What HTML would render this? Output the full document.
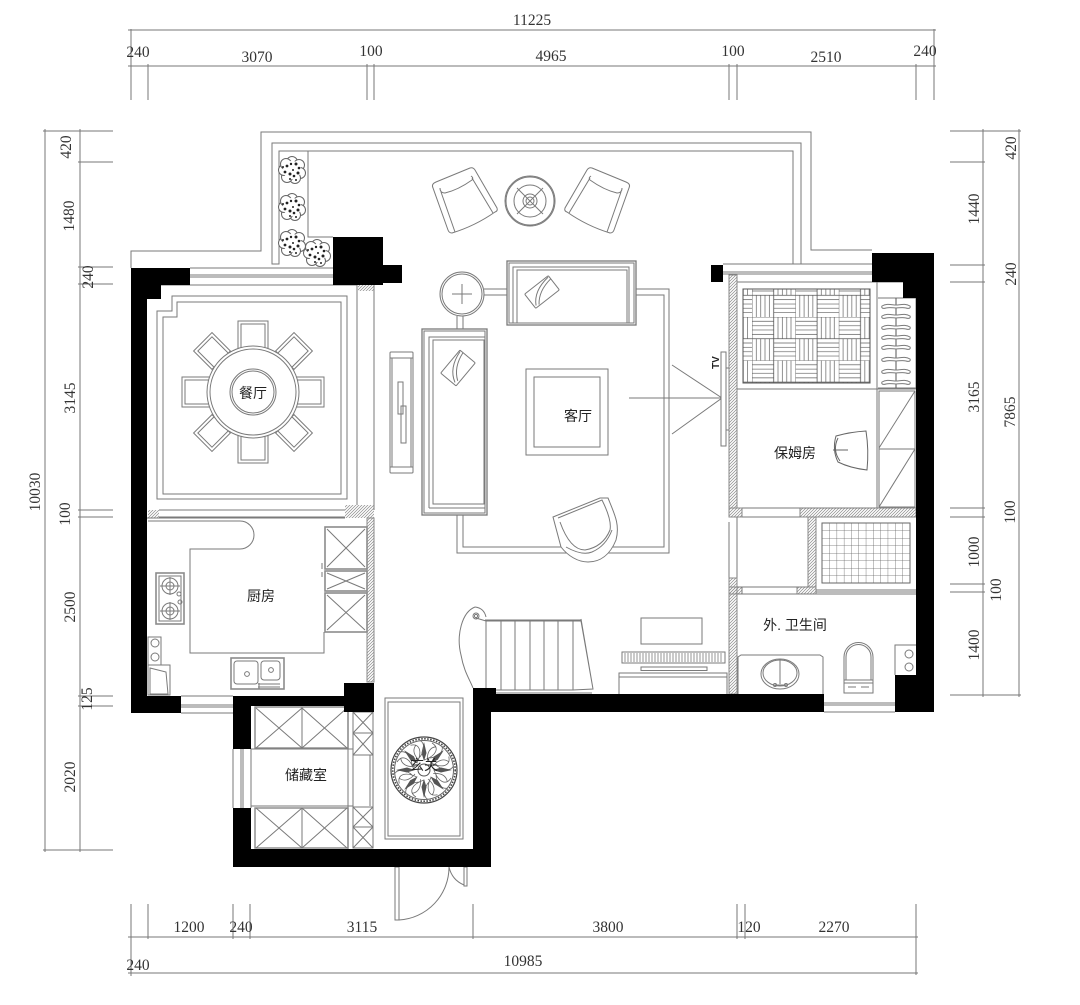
<!DOCTYPE html>
<html><head><meta charset="utf-8"><title>Floor plan</title>
<style>
html,body{margin:0;padding:0;background:#fff}
svg{display:block;filter:blur(.3px)}
.d{font-family:"Liberation Serif",serif;font-size:15.5px;fill:#333;text-anchor:middle}
.r{font-family:"Liberation Sans","Noto Sans CJK SC",sans-serif;font-size:14px;fill:#222;text-anchor:middle}
</style></head><body>
<svg xmlns="http://www.w3.org/2000/svg" width="1080" height="1005" viewBox="0 0 1080 1005">
<defs>
<pattern id="h" width="3" height="3" patternUnits="userSpaceOnUse"><path d="M-1,1 L1,-1 M0,3 L3,0 M2,4 L4,2" stroke="#8a8a8a" stroke-width=".7" fill="none"/></pattern>
<pattern id="pq" x="752" y="317" width="43.4" height="43.4" patternUnits="userSpaceOnUse">
<rect width="43.4" height="43.4" fill="#fff"/>
<path d="M0,4.3H21.7M0,8.7H21.7M0,13H21.7M0,17.4H21.7M21.7,26H43.4M21.7,30.4H43.4M21.7,34.7H43.4M21.7,39H43.4M26,0V21.7M30.4,0V21.7M34.7,0V21.7M39,0V21.7M4.3,21.7V43.4M8.7,21.7V43.4M13,21.7V43.4M17.4,21.7V43.4" stroke="#777" stroke-width=".8"/>
<path d="M0,0H43.4M0,21.7H43.4M0,0V43.4M21.7,0V43.4" stroke="#555" stroke-width=".8"/>
</pattern>
<pattern id="tile" x="822" y="523" width="7.3" height="7.5" patternUnits="userSpaceOnUse"><path d="M0,0H7.3M0,0V7.5" stroke="#666" stroke-width=".8" fill="none"/></pattern>
<g id="plant">
<circle cx="0" cy="-8" r="5.5" fill="#fff"/><circle cx="7" cy="-5" r="5.5" fill="#fff"/><circle cx="8" cy="3" r="5.5" fill="#fff"/><circle cx="3" cy="8" r="5.5" fill="#fff"/><circle cx="-5" cy="7" r="5.5" fill="#fff"/><circle cx="-8" cy="0" r="5.5" fill="#fff"/><circle cx="-6" cy="-6" r="5.5" fill="#fff"/>
<circle r="9" fill="#fff" stroke="none"/>
<g fill="#222" stroke="none"><circle cx="-5" cy="-4" r="1.4"/><circle cx="-1" cy="-6" r="1.2"/><circle cx="4" cy="-6" r="1.5"/><circle cx="7" cy="-2" r="1.3"/><circle cx="6" cy="3" r="1.5"/><circle cx="2" cy="6" r="1.3"/><circle cx="-2" cy="4" r="1.5"/><circle cx="-7" cy="2" r="1.4"/><circle cx="-9" cy="-3" r="1"/><circle cx="1" cy="0" r="1"/><circle cx="-2" cy="9" r="1"/><circle cx="4" cy="10" r="1"/></g>
</g>
<g id="dchair"><rect x="-15" y="-71" width="30" height="30" fill="#fff"/><rect x="-12" y="-68" width="24" height="27" fill="none"/></g>
<g id="dchair2"><rect x="-13" y="-71" width="26" height="26" fill="#fff"/><rect x="-10" y="-68" width="20" height="23" fill="none"/></g>
<g id="armchair"><path fill="#fff" d="M433,188 Q431,184 436,182 L470,168 Q473,167 475,170 L497,208 Q498,211 495,212 Q475,226 452,233 Q449,233 448,230 Z"/><path fill="none" d="M440,188 Q440,193 445,193 Q458,190 472,180 Q474,178 471,176 M441,192 L455,232 M472,178 L493,213"/></g>
<g id="hanger"><path fill="#fff" d="M-14,-1 C-9,-4 -4,-2 0,-2 C4,-2 9,-4 14,-1 C15,1 13,2 10,1 C6,0 3,1 0,1 C-3,1 -6,0 -10,1 C-13,2 -15,1 -14,-1Z"/></g>
<g id="petal"><path d="M0,-28 L-2.5,-17 L0,-9 L2.5,-17Z" fill="#555" stroke="none"/><path d="M0,-10 C12,-14 16,-22 8,-27 M4,-12 C12,-12 20,-17 18,-24 M-4,-9 C-10,-14 -12,-20 -8,-25" fill="none" stroke="#666" stroke-width=".8"/></g>
</defs>

<!-- dimensions -->
<g stroke="#777" stroke-width="1" fill="none">
<path d="M128,30H936M128,66H936M131,29V100M148,64V100M367,64V100M374,64V100M729,64V100M737,64V100M916,64V100M934,29V100"/>
<path d="M45,129V852M80,129V852M43,131H113M78,162H113M78,267H113M78,284H113M78,510H113M78,517H113M78,696H113M78,706H113M43,850H113"/>
<path d="M983,129V697M1019,129V697M950,131H1021M950,162H985M950,265H985M950,282H985M950,508H985M950,517H985M950,584H985M950,592H985M950,695H1021"/>
<path d="M128,937H918M128,973H918M131,904V976M148,904V939M233,904V939M250,904V939M473,904V939M737,904V939M745,904V939M916,904V975"/>
</g>
<g class="d">
<text x="532" y="25">11225</text>
<text x="138" y="57">240</text><text x="257" y="62">3070</text><text x="371" y="56">100</text><text x="551" y="61">4965</text><text x="733" y="56">100</text><text x="826" y="62">2510</text><text x="925" y="56">240</text>
<text transform="translate(71,147) rotate(-90)">420</text>
<text transform="translate(74,216) rotate(-90)">1480</text>
<text transform="translate(93,277) rotate(-90)">240</text>
<text transform="translate(75,398) rotate(-90)">3145</text>
<text transform="translate(70,514) rotate(-90)">100</text>
<text transform="translate(75,607) rotate(-90)">2500</text>
<text transform="translate(92,699) rotate(-90)">125</text>
<text transform="translate(75,777) rotate(-90)">2020</text>
<text transform="translate(40,492) rotate(-90)">10030</text>
<text transform="translate(1016,148) rotate(-90)">420</text>
<text transform="translate(979,209) rotate(-90)">1440</text>
<text transform="translate(1016,274) rotate(-90)">240</text>
<text transform="translate(979,397) rotate(-90)">3165</text>
<text transform="translate(1015,412) rotate(-90)">7865</text>
<text transform="translate(1015,512) rotate(-90)">100</text>
<text transform="translate(979,552) rotate(-90)">1000</text>
<text transform="translate(1001,590) rotate(-90)">100</text>
<text transform="translate(979,645) rotate(-90)">1400</text>
<text x="189" y="932">1200</text><text x="241" y="932">240</text><text x="362" y="932">3115</text><text x="608" y="932">3800</text><text x="749" y="932">120</text><text x="834" y="932">2270</text><text x="138" y="970">240</text><text x="523" y="966">10985</text>
</g>

<!-- plan lines -->
<g stroke="#7a7a7a" stroke-width="1" fill="none">
<!-- balcony -->
<path d="M131,268V251H261V132H811V250H872"/>
<path d="M272,264V143H801V264H793V151H279V264Z"/>
<path d="M308,151V237H333"/>
<path d="M190,268H333M190,275H333M190,277H333M190,285H333"/>
<path d="M723,264H872M723,272H872M723,274H872M737,282H903"/>
<g stroke="#666"><use href="#plant" x="292" y="170"/><use href="#plant" x="292" y="207"/><use href="#plant" x="292" y="243"/><use href="#plant" x="317" y="253"/></g>

<!-- dining -->
<path d="M161,285H357M357,285V505M374,285V510"/>
<path d="M157,311H172V296H347V499H157Z"/>
<path d="M163,317H177V302H341V494H163Z"/>
<rect x="358" y="285" width="16" height="6" fill="url(#h)" stroke="none"/>
<rect x="345" y="505" width="29" height="13" fill="url(#h)" stroke="none"/>
<rect x="148" y="510" width="11" height="8" fill="url(#h)" stroke="none"/>
<path d="M159,510H345M159,517H345M147,518H345"/>
<g transform="translate(253,392)">
<use href="#dchair"/><use href="#dchair2" transform="rotate(45)"/><use href="#dchair" transform="rotate(90)"/><use href="#dchair2" transform="rotate(135)"/><use href="#dchair" transform="rotate(180)"/><use href="#dchair2" transform="rotate(225)"/><use href="#dchair" transform="rotate(270)"/><use href="#dchair2" transform="rotate(315)"/>
<circle r="46" fill="#fff"/><circle r="43"/><circle r="23"/><circle r="21"/>
</g>

<!-- kitchen -->
<path d="M148,521H240A14,14 0 0 1 240,549H190V653H324V632"/>
<rect x="367" y="518" width="7" height="164" fill="url(#h)" stroke="#888"/>
<g stroke-width="1.6" stroke="#8c8c8c"><rect x="325" y="527" width="42" height="42" fill="#fff"/><rect x="325" y="571" width="42" height="20" fill="#fff"/><rect x="325" y="593" width="42" height="39" fill="#fff"/></g>
<path d="M327,529L365,567M365,529L327,567M327,573L365,589M365,573L327,589M327,595L365,630M365,595L327,630"/>
<path d="M322,563V569M322,572V577"/>
<rect x="156" y="573" width="28" height="51" stroke-width="1.6" stroke="#8c8c8c"/>
<rect x="159" y="576" width="22" height="45"/>
<circle cx="170" cy="586" r="8"/><circle cx="170" cy="586" r="4"/><circle cx="170" cy="611" r="8"/><circle cx="170" cy="611" r="4"/><circle cx="179" cy="594" r="2"/><circle cx="180" cy="602" r="2"/>
<path d="M160,586H180M170,577V595M160,611H180M170,602V620"/>
<rect x="148" y="637" width="13" height="28"/><circle cx="155" cy="643" r="4"/><circle cx="155" cy="657" r="4"/>
<path d="M148,665H170V695H148ZM150,668L166,672L168,694H150Z"/>
<rect x="231" y="658" width="53" height="31" stroke-width="1.6" stroke="#8c8c8c"/>
<rect x="234" y="661" width="24" height="23" rx="3"/><rect x="261" y="661" width="19" height="19" rx="3"/><circle cx="247" cy="674" r="2.4"/><circle cx="271" cy="670" r="2.4"/>
<path d="M258,684H280M258,687H280M259,683V689"/>
<path d="M181,696H233M181,705H233M181,707H233M181,713H233"/>

<!-- storage -->
<g stroke-width="1.4" stroke="#888"><rect x="255" y="707" width="93" height="41"/><rect x="255" y="808" width="93" height="40"/></g>
<path d="M302,707V748M302,808V848M256,748L302,708M256,708L302,748M302,748L347,708M302,708L347,748M256,848L302,808M256,808L302,848M302,848L347,808M302,808L347,848"/>
<path d="M251,749H353M251,806H353M251,749V808M241,749V808M243,749V808M233,749V808"/>
<rect x="353" y="712" width="20" height="43"/><path d="M353,733H373M353,712L373,733M373,712L353,733M353,733L373,755M373,733L353,755"/>
<rect x="353" y="755" width="20" height="52"/><path d="M370,755V806"/>
<rect x="353" y="807" width="20" height="41"/><path d="M353,827H373M353,807L373,827M373,807L353,827M353,827L373,848M373,827L353,848"/>
<path d="M348,712V849"/>

<!-- entry -->
<rect x="385" y="698" width="78" height="141"/><rect x="388" y="702" width="72" height="134"/>
<g transform="translate(424,770)">
<circle r="33" stroke="#444" stroke-width="1.2"/><circle r="29.5" stroke="#666"/><circle r="31.2" stroke="#444" stroke-width="1.6" stroke-dasharray="1.5 1.5"/>
<use href="#petal"/><use href="#petal" transform="rotate(45)"/><use href="#petal" transform="rotate(90)"/><use href="#petal" transform="rotate(135)"/><use href="#petal" transform="rotate(180)"/><use href="#petal" transform="rotate(225)"/><use href="#petal" transform="rotate(270)"/><use href="#petal" transform="rotate(315)"/>
<circle r="6" stroke="#555"/>
</g>
<!-- door -->
<rect x="395" y="867" width="4" height="53"/>
<path d="M399,920A53,53 0 0 0 449,867"/>
<path d="M449,867Q452,880 464,885"/>
<rect x="464" y="867" width="3" height="19"/>

<!-- living rug -->
<path d="M457,515V553H669V289H636M636,295H664V547H463V515M484,289H507M484,295H507M457,316V329M463,316V329"/>
<rect x="526" y="369" width="82" height="86"/><rect x="534" y="377" width="66" height="70"/>
<path d="M672,365L722,398L672,434M629,398H722"/>
<circle cx="462" cy="294" r="22" fill="#fff"/><circle cx="462" cy="294" r="20"/>
<path d="M452,294H472M462,284V304"/>
<rect x="507" y="261" width="129" height="64" fill="#fff" stroke-width="1.3"/>
<path d="M509,263H634V323H509Z"/>
<path d="M513,323V267H629V323M517,323V270H627V323M513,323H629"/>
<g transform="translate(542,292) rotate(-38)"><rect x="-15" y="-9" width="30" height="18" rx="1" fill="#fff"/><path d="M-13,7Q-6,-6 14,-8M-10,8Q-2,-3 15,-5"/></g>
<rect x="422" y="329" width="65" height="186" fill="#fff" stroke-width="1.3"/>
<path d="M424,331H485V513H424Z"/>
<path d="M429,508V337H485M433,504V340H484V504H433ZM429,508H485"/>
<g transform="translate(458,368) rotate(-50)"><rect x="-15" y="-10" width="30" height="20" rx="1" fill="#fff"/><path d="M-13,7Q-6,-7 14,-9M-10,8Q-2,-4 15,-6"/></g>
<rect x="390" y="352" width="23" height="121" rx="1" fill="#fff"/>
<path d="M390,358H413M390,467H413M392,358V467M411,358V467"/>
<rect x="398" y="382" width="5" height="32"/><rect x="401" y="406" width="5" height="37"/>
<g id="lc"><path fill="#fff" d="M553,517L600,498L608,498C615,515 620,525 616,540C610,555 600,562 588,562C578,562 568,556 561,547L553,517Z"/>
<path d="M558,518L602,500Q612,520 610,530Q603,547 585,550Q570,550 560,522M566,547Q582,556 592,552Q606,546 612,530"/></g>
<use href="#armchair"/><use href="#armchair" transform="translate(1062,0) scale(-1,1)"/>
<circle cx="530" cy="201" r="25"/><circle cx="530" cy="201" r="24"/><circle cx="530" cy="201" r="16"/><circle cx="530" cy="201" r="7"/><circle cx="530" cy="201" r="4"/>
<path d="M517,188L543,214M543,188L517,214"/>

<!-- right rooms -->
<rect x="729" y="275" width="8" height="233" fill="url(#h)" stroke="#888"/>
<rect x="729" y="508" width="13" height="9" fill="url(#h)" stroke="#888"/>
<rect x="800" y="508" width="116" height="9" fill="url(#h)" stroke="#888"/>
<path d="M742,508H800M742,517H800M729,522V578M737,517V587"/>
<rect x="729" y="578" width="8" height="116" fill="url(#h)" stroke="#888"/>
<rect x="729" y="587" width="13" height="7" fill="url(#h)" stroke="#888"/>
<rect x="797" y="587" width="19" height="7" fill="url(#h)" stroke="#888"/>
<rect x="808" y="517" width="8" height="70" fill="url(#h)" stroke="#888"/>
<path d="M737,587H808M742,587V594M737,594H916M816,590H916M816,592H916"/>
<rect x="822" y="523" width="88" height="60" fill="url(#tile)" stroke="#666"/>
<rect x="743" y="289" width="127" height="94" fill="url(#pq)" stroke="#555"/>
<path d="M737,389H916M877,282V508M877,508H800M878,298H916V388H878"/>
<path d="M896,298V388" stroke="#555"/>
<use href="#hanger" x="896" y="307"/><use href="#hanger" x="896" y="317"/><use href="#hanger" x="896" y="328"/><use href="#hanger" x="896" y="338"/><use href="#hanger" x="896" y="348"/><use href="#hanger" x="896" y="360"/><use href="#hanger" x="896" y="372"/><use href="#hanger" x="896" y="383"/>
<path d="M879,391H915V507H879ZM879,449H915M879,448L915,391M879,507L915,449"/>
<path d="M836,436Q850,432 866,431Q869,450 867,470Q850,468 838,462Q832,450 836,436ZM838,438Q832,450 840,461M833,450H848" stroke="#666"/>
<rect x="721" y="352" width="5" height="94" fill="#fff"/>
<path d="M726,368H729M726,430H729"/>
<!-- bath -->
<path d="M738,694V657L741,655H820L823,657V694"/>
<ellipse cx="780" cy="674" rx="19" ry="15"/><ellipse cx="780" cy="673" rx="17" ry="13"/>
<path d="M780,660V684M775,685H786"/><circle cx="775" cy="685" r="1.5"/><circle cx="786" cy="685" r="1.5"/>
<path d="M844,680V657A14.5,14.5 0 0 1 873,657V680M846,680V657A12.5,12.5 0 0 1 871,657V680"/>
<rect x="844" y="680" width="29" height="13"/><path d="M844,683H873M848,687H856M861,687H869"/>
<path d="M916,645H895V675"/><circle cx="909" cy="654" r="4"/><circle cx="909" cy="667" r="4"/>
<path d="M824,703H895M824,705H895M824,712H895"/>

<!-- stairs -->
<path d="M475,607C462,612 456,635 461,655C464,672 470,680 473,688"/>
<path d="M475,607Q484,608 486,617"/><circle cx="476" cy="616" r="3"/><circle cx="476" cy="616" r="1.6"/>
<path d="M476,618L486,621H581L593,689L573,690H496M485,620H581M486,621V688M501,621V690M515,621V690M530,621V690M544,621V690M558,621V690M573,621V690M581,619L593,689M496,693H592"/>
<rect x="641" y="618" width="61" height="26"/>
<rect x="622" y="652" width="103" height="11"/>
<path d="M625,653V662M628,653V662M631,653V662M634,653V662M637,653V662M640,653V662M643,653V662M646,653V662M649,653V662M652,653V662M655,653V662M658,653V662M661,653V662M664,653V662M667,653V662M670,653V662M673,653V662M676,653V662M679,653V662M682,653V662M685,653V662M688,653V662M691,653V662M694,653V662M697,653V662M700,653V662M703,653V662M706,653V662M709,653V662M712,653V662M715,653V662M718,653V662M721,653V662" stroke-width=".8"/>
<rect x="641" y="667" width="66" height="3.5"/>
<rect x="619" y="673" width="108" height="4"/><path d="M619,677V694M727,677V694"/>
</g>

<!-- walls -->
<g fill="#000">
<polygon points="131,268 190,268 190,285 161,285 161,299 147,299 147,696 181,696 181,713 131,713"/>
<polygon points="333,237 383,237 383,265 402,265 402,283 383,283 383,285 333,285"/>
<rect x="711" y="265" width="12" height="17"/>
<polygon points="872,253 934,253 934,712 895,712 895,675 916,675 916,298 903,298 903,282 872,282"/>
<polygon points="233,696 344,696 344,683 374,683 374,712 344,712 344,706 251,706 251,749 233,749"/>
<polygon points="233,808 251,808 251,849 473,849 473,688 496,688 496,694 824,694 824,712 491,712 491,867 233,867"/>
</g>

<!-- labels -->
<g class="r">
<text x="253" y="398">餐厅</text>
<text x="578" y="421">客厅</text>
<text x="795" y="458">保姆房</text>
<text x="795" y="630">外. 卫生间</text>
<text x="261" y="601">厨房</text>
<text x="306" y="780">储藏室</text>
<text x="424" y="770">玄关</text>
</g>
<text transform="translate(719,369) rotate(-90)" font-family="Liberation Sans,sans-serif" font-size="10" font-weight="bold" fill="#222">TV</text>
</svg>
</body></html>
